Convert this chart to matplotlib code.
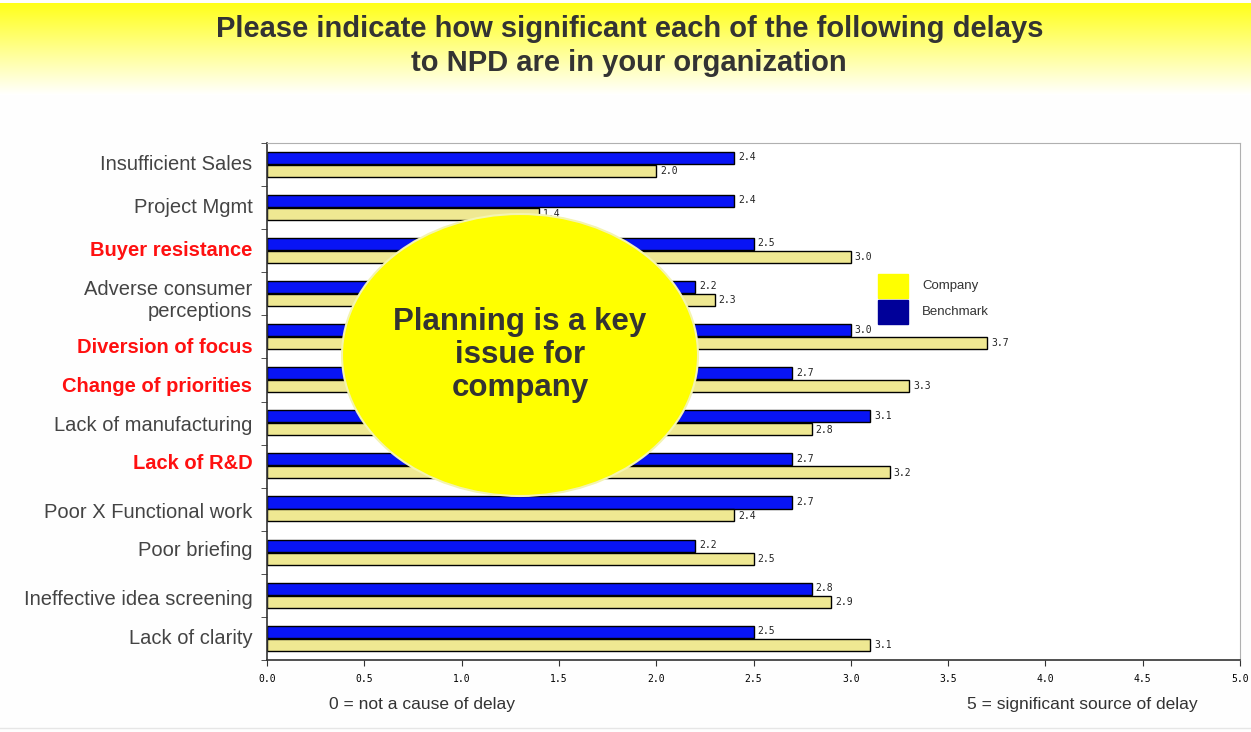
import numpy as np
import matplotlib
matplotlib.use("Agg")
import matplotlib.pyplot as plt
from matplotlib.patches import Ellipse, Rectangle

plt.rcParams["font.family"] = ["Liberation Sans", "DejaVu Sans"]

CATEGORIES = [
    "Insufficient Sales",
    "Project Mgmt",
    "Buyer resistance",
    "Adverse consumer\nperceptions",
    "Diversion of focus",
    "Change of priorities",
    "Lack of manufacturing",
    "Lack of R&D",
    "Poor X Functional work",
    "Poor briefing",
    "Ineffective idea screening",
    "Lack of clarity",
]
HIGHLIGHT = ["Buyer resistance", "Diversion of focus", "Change of priorities", "Lack of R&D"]
BENCHMARK = [2.4, 2.4, 2.5, 2.2, 3.0, 2.7, 3.1, 2.7, 2.7, 2.2, 2.8, 2.5]
COMPANY = [2.0, 1.4, 3.0, 2.3, 3.7, 3.3, 2.8, 3.2, 2.4, 2.5, 2.9, 3.1]
X_TICKS = np.arange(0, 5.01, 0.5)

TITLE = "Please indicate how significant each of the following delays\nto NPD are in your organization"
CALLOUT = "Planning is a key\nissue for\ncompany"

# small vertical nudges (in rows) of the category labels, as laid out in the original slide
LABEL_NUDGE = [0.0, 0.0, 0.0, 0.15, 0.25, 0.15, 0.05, -0.05, 0.08, -0.03, 0.1, 0.0]

fig = plt.figure(figsize=(12.51, 7.32), dpi=100)
fig.patch.set_facecolor("#fefefe")

# yellow-to-white title band
band = fig.add_axes([0, 1 - 95 / 732, 1, 92 / 732])
grad = np.linspace(0, 1, 256).reshape(-1, 1)
top = np.array([1.0, 1.0, 0.1])
bottom = np.array([1.0, 1.0, 1.0])
img = top[None, None, :] * (1 - grad[:, :, None]) + bottom[None, None, :] * grad[:, :, None]
band.imshow(img, aspect="auto", extent=[0, 1, 0, 1])
band.axis("off")
fig.text(0.503, 1 - 46 / 732, TITLE, ha="center", va="center", fontsize=21,
         fontweight="bold", color="#333333", linespacing=1.3)

ax = fig.add_axes([267 / 1251, 1 - 660 / 732, 973 / 1251, 517 / 732])
y = np.arange(len(CATEGORIES))
h = 0.28
ax.barh(y - 0.155, BENCHMARK, height=h, color="#0814f5", edgecolor="black", linewidth=1)
ax.barh(y + 0.145, COMPANY, height=h, color="#efe892", edgecolor="black", linewidth=1)

for yi, b, c in zip(y, BENCHMARK, COMPANY):
    ax.text(b + 0.02, yi - 0.17, f"{b:.1f}", fontsize=7, family="DejaVu Sans Mono",
            va="center", ha="left", color="#222222")
    ax.text(c + 0.02, yi + 0.15, f"{c:.1f}", fontsize=7, family="DejaVu Sans Mono",
            va="center", ha="left", color="#222222")

ax.set_xlim(0, 5)
ax.set_ylim(len(CATEGORIES) - 0.5, -0.5)
ax.set_xticks(X_TICKS)
ax.set_xticklabels([f"{t:.1f}" for t in X_TICKS], fontsize=7, family="DejaVu Sans Mono")
ax.tick_params(axis="x", length=4, pad=6, color="#333333")

ax.set_yticks([])
ax.set_yticks(np.arange(len(CATEGORIES) + 1) - 0.5, minor=True)
ax.tick_params(axis="y", which="minor", length=4, color="#333333")
for yi, name, nudge in zip(y, CATEGORIES, LABEL_NUDGE):
    bold = name in HIGHLIGHT
    ax.text(-0.075, yi + nudge, name, ha="right", va="center", fontsize=14.5,
            fontweight="bold" if bold else "normal",
            color="#ff1010" if bold else "#444444")

for side in ["top", "right"]:
    ax.spines[side].set_color("#b0b0b0")
for side in ["left", "bottom"]:
    ax.spines[side].set_color("#333333")
    ax.spines[side].set_linewidth(1.2)

# overlay in pixel coordinates for legend, callout and footnotes
ov = fig.add_axes([0, 0, 1, 1], facecolor="none")
ov.set_xlim(0, 1251)
ov.set_ylim(732, 0)
ov.axis("off")
ov.add_patch(Rectangle((878, 274), 30, 24, color="#ffff00"))
ov.add_patch(Rectangle((878, 300), 30, 24, color="#000099"))
ov.text(922, 286, "Company", fontsize=9.5, va="center", color="#333333")
ov.text(922, 312, "Benchmark", fontsize=9.5, va="center", color="#333333")

ov.add_patch(Ellipse((520, 355), 356, 282, facecolor="#ffff00", edgecolor="#f4f4b0", linewidth=1.5))
ov.text(520, 355, CALLOUT, ha="center", va="center", fontsize=22.5, fontweight="bold",
        color="#333333", linespacing=1.12)

ov.text(422, 705, "0 = not a cause of delay", ha="center", va="center", fontsize=12.5, color="#333333")
ov.text(1082, 705, "5 = significant source of delay", ha="center", va="center", fontsize=12.5, color="#333333")
ov.plot([0, 1251], [728, 728], color="#e6e6e6", linewidth=1)

fig.savefig("out.png", dpi=100, facecolor=fig.get_facecolor())
